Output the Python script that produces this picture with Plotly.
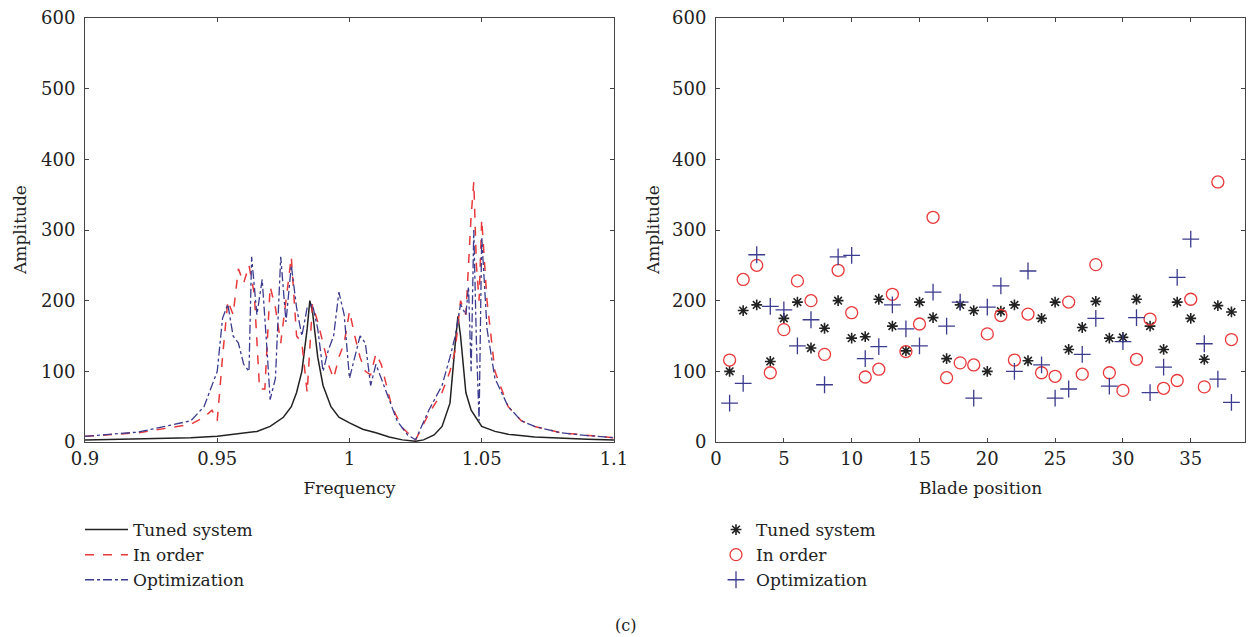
import plotly.graph_objects as go

# ---------- Left panel: frequency response ----------
freq_tuned = [0.90, 0.92, 0.94, 0.95, 0.96, 0.965, 0.97, 0.975, 0.978, 0.98, 0.982, 0.984, 0.985,
              0.986, 0.988, 0.99, 0.993, 0.996, 1.0, 1.005, 1.01, 1.015, 1.02, 1.025, 1.028, 1.032,
              1.035, 1.038, 1.04, 1.041, 1.042, 1.044, 1.046, 1.05, 1.055, 1.06, 1.07, 1.08, 1.09, 1.1]
amp_tuned = [3, 4, 6, 8, 12, 15, 22, 35, 50, 70, 100, 160, 200,
             185, 120, 80, 50, 35, 27, 18, 13, 7, 3, 1, 3, 10,
             22, 55, 140, 178, 150, 70, 45, 22, 15, 11, 7, 5, 4, 3]

freq_order = [0.90, 0.92, 0.94, 0.945, 0.948, 0.95, 0.952, 0.954, 0.956, 0.958, 0.96, 0.962, 0.964,
              0.966, 0.968, 0.97, 0.972, 0.974, 0.976, 0.978, 0.98, 0.982, 0.984, 0.986, 0.988, 0.99,
              0.992, 0.994, 0.996, 0.998, 1.0, 1.002, 1.004, 1.006, 1.008, 1.01, 1.012, 1.014, 1.016,
              1.02, 1.025, 1.03, 1.035, 1.038, 1.04, 1.042, 1.044, 1.046, 1.047, 1.048, 1.049, 1.05,
              1.052, 1.055, 1.06, 1.065, 1.07, 1.08, 1.09, 1.1]
amp_order = [8, 13, 25, 35, 45, 30, 120, 200, 180, 245, 225, 250, 210,
             75, 75, 220, 190, 140, 200, 262, 150, 140, 70, 195, 170, 140,
             110, 90, 120, 140, 185, 150, 120, 100, 95, 125, 110, 80, 50,
             20, 3, 40, 70, 100, 130, 200, 180, 320, 368, 250, 200, 315,
             200, 100, 50, 30, 22, 13, 9, 6]

freq_opt = [0.90, 0.92, 0.94, 0.945, 0.95, 0.952, 0.954, 0.956, 0.958, 0.96, 0.962, 0.963, 0.965,
            0.967, 0.969, 0.97, 0.972, 0.974, 0.976, 0.978, 0.98, 0.982, 0.984, 0.986, 0.988, 0.99,
            0.992, 0.994, 0.996, 0.998, 1.0, 1.002, 1.004, 1.006, 1.008, 1.01, 1.012, 1.014, 1.018,
            1.022, 1.025, 1.03, 1.035, 1.038, 1.04, 1.042, 1.044, 1.045, 1.046, 1.047, 1.048, 1.049,
            1.05, 1.052, 1.055, 1.06, 1.065, 1.07, 1.08, 1.09, 1.1]
amp_opt = [8, 14, 30, 50, 100, 175, 195, 150, 140, 110, 100, 262, 180,
           230, 120, 60, 90, 262, 170, 250, 190, 150, 190, 195, 160, 100,
           130, 150, 212, 180, 90, 120, 150, 140, 80, 110, 90, 70, 30,
           10, 3, 45, 80, 120, 150, 195, 180, 220, 100, 300, 140, 30,
           290, 160, 90, 50, 30, 22, 13, 9, 6]

# ---------- Right panel: amplitude per blade ----------
blades = list(range(1, 39))
blade_tuned = [100, 186, 194, 114, 175, 198, 133, 161, 200, 147, 149, 202, 164, 129, 198, 176, 118, 194,
               186, 100, 185, 194, 115, 175, 198, 131, 162, 199, 147, 148, 202, 164, 131, 198, 175, 117,
               193, 184]
blade_order = [116, 230, 250, 98, 159, 228, 200, 124, 243, 183, 92, 103, 209, 128, 167, 318, 91, 112,
               109, 153, 179, 116, 181, 98, 93, 198, 96, 251, 98, 73, 117, 174, 76, 87, 202, 78, 368, 145]
blade_opt = [55, 83, 265, 192, 187, 136, 173, 81, 262, 264, 118, 135, 194, 160, 136, 212, 164, 198,
             62, 191, 221, 100, 242, 109, 62, 75, 124, 175, 79, 142, 176, 70, 106, 233, 287, 139, 89, 56]

FONT = "DejaVu Serif"
RED = "#e8383a"
BLUE = "#3b3b8f"
TXT = "#222222"

W, H = 1250, 637

fig = go.Figure()

fig.add_trace(go.Scatter(x=freq_tuned, y=amp_tuned, mode="lines", name="Tuned system",
                         line=dict(color=TXT, width=1.5), legend="legend",
                         xaxis="x", yaxis="y"))
fig.add_trace(go.Scatter(x=freq_order, y=amp_order, mode="lines", name="In order",
                         line=dict(color=RED, width=1.5, dash="dash"), legend="legend",
                         xaxis="x", yaxis="y"))
fig.add_trace(go.Scatter(x=freq_opt, y=amp_opt, mode="lines", name="Optimization",
                         line=dict(color=BLUE, width=1.3, dash="dashdot"), legend="legend",
                         xaxis="x", yaxis="y"))

fig.add_trace(go.Scatter(x=blades, y=blade_tuned, mode="markers", name="Tuned system",
                         marker=dict(symbol="asterisk-open", size=9, color=TXT,
                                     line=dict(width=1.6, color=TXT)),
                         legend="legend2", xaxis="x2", yaxis="y2"))
fig.add_trace(go.Scatter(x=blades, y=blade_order, mode="markers", name="In order",
                         marker=dict(symbol="circle-open", size=12, color=RED,
                                     line=dict(width=1.3, color=RED)),
                         legend="legend2", xaxis="x2", yaxis="y2"))
fig.add_trace(go.Scatter(x=blades, y=blade_opt, mode="markers", name="Optimization",
                         marker=dict(symbol="cross-thin-open", size=12, color=BLUE,
                                     line=dict(width=1.3, color=BLUE)),
                         legend="legend2", xaxis="x2", yaxis="y2"))

axis_common = dict(showline=True, linecolor="#444444", linewidth=1, mirror="ticks",
                   ticks="inside", ticklen=4, tickcolor="#444444", showgrid=False,
                   zeroline=False, automargin=False,
                   tickfont=dict(family=FONT, size=18, color=TXT))
title_font = dict(family=FONT, size=17, color=TXT)

# plot area on screen: x 85..1245 px, y 18..442 px
fig.update_layout(
    width=W, height=H,
    margin=dict(l=85, r=W - 1245, t=18, b=H - 442, autoexpand=False),
    paper_bgcolor="white", plot_bgcolor="white",
    xaxis=dict(domain=[0, 0.456], range=[0.9, 1.1], tickvals=[0.9, 0.95, 1, 1.05, 1.1],
               ticktext=["0.9", "0.95", "1", "1.05", "1.1"],
               title=dict(text="Frequency", font=title_font, standoff=14), anchor="y", **axis_common),
    yaxis=dict(domain=[0, 1], range=[0, 600], dtick=100, ticklabelstandoff=5,
               anchor="x", **axis_common),
    xaxis2=dict(domain=[0.544, 1.0], range=[0, 39], dtick=5,
                title=dict(text="Blade position", font=title_font, standoff=14), anchor="y2",
                **axis_common),
    yaxis2=dict(domain=[0, 1], range=[0, 600], dtick=100, ticklabelstandoff=5,
                anchor="x2", **axis_common),
    legend=dict(xref="container", yref="container", x=80 / W, y=1 - 512 / H,
                xanchor="left", yanchor="top", bgcolor="rgba(0,0,0,0)",
                font=dict(family=FONT, size=17, color=TXT), tracegroupgap=0,
                itemwidth=43),
    legend2=dict(xref="container", yref="container", x=716 / W, y=1 - 512 / H,
                 xanchor="left", yanchor="top", bgcolor="rgba(0,0,0,0)",
                 font=dict(family=FONT, size=17, color=TXT), tracegroupgap=0),
    annotations=[
        dict(text="Amplitude", x=(20 - 85) / 1160, y=0.5, xref="paper", yref="paper",
             textangle=-90, xanchor="center", yanchor="middle", showarrow=False, font=title_font),
        dict(text="Amplitude", x=(653 - 85) / 1160, y=0.5, xref="paper", yref="paper",
             textangle=-90, xanchor="center", yanchor="middle", showarrow=False, font=title_font),
        dict(text="(c)", x=(625 - 85) / 1160, y=(442 - 625) / 424,
             xref="paper", yref="paper",
             xanchor="center", yanchor="middle", showarrow=False,
             font=dict(family=FONT, size=16, color=TXT)),
    ],
)

fig.write_html("out.html", config={"displayModeBar": False},
               post_script="document.body.style.margin='0';document.body.style.overflow='hidden';")
